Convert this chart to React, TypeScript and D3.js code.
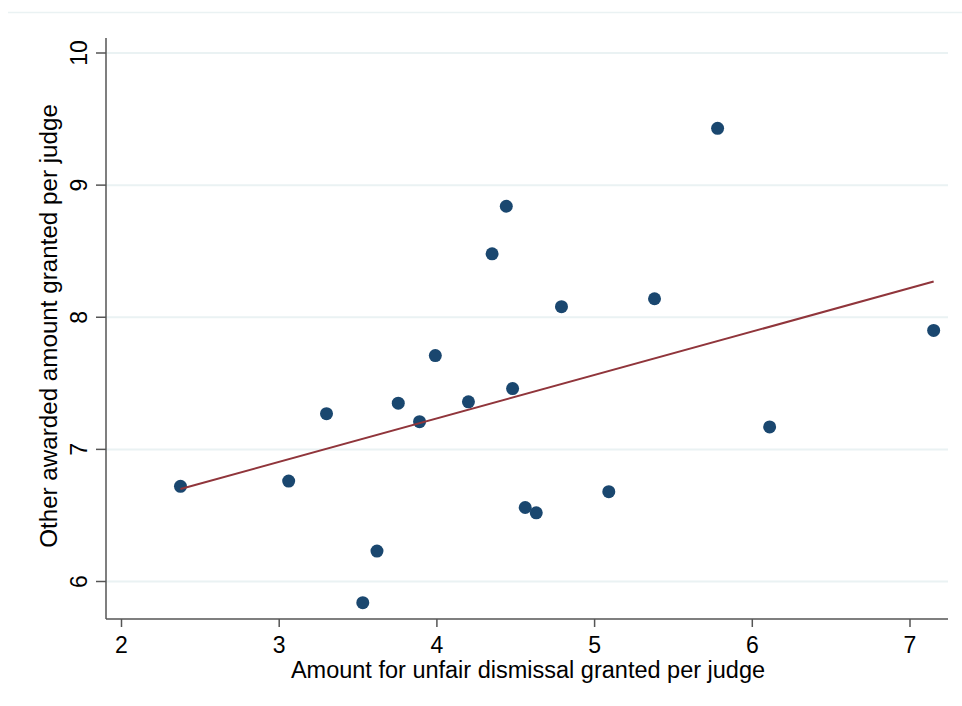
import React from "react";
import * as d3 from "d3";

const xValues = [2.374, 3.06, 3.30, 3.53, 3.62, 3.755, 3.89, 3.99, 4.20, 4.35, 4.44, 4.48, 4.56, 4.63, 4.79, 5.09, 5.38, 5.78, 6.11, 7.15];
const yValues = [6.72, 6.76, 7.27, 5.84, 6.23, 7.35, 7.21, 7.71, 7.36, 8.48, 8.84, 7.46, 6.56, 6.52, 8.08, 6.68, 8.14, 9.43, 7.17, 7.90];
const fitX = [2.374, 7.15];
const fitY = [6.70, 8.27];
const xTicks = [2, 3, 4, 5, 6, 7];
const yTicks = [6, 7, 8, 9, 10];
const xLabel = "Amount for unfair dismissal granted per judge";
const yLabel = "Other awarded amount granted per judge";

export default function App() {
  const W = 962, H = 706;
  const x = d3.scaleLinear().domain([2, 7]).range([121.5, 910]);
  const y = d3.scaleLinear().domain([6, 10]).range([581.5, 53]);
  const axLeft = 106, axBottom = 619, axTop = 38, axRight = 948;
  const font = "Arial, 'Liberation Sans', sans-serif";
  const line = d3.line<number>().x((_, i) => x(fitX[i])).y((_, i) => y(fitY[i]));
  return (
    <svg width={W} height={H} style={{ position: "absolute", left: 0, top: 0, background: "#fff" }} fontFamily={font}>
      <rect width={W} height={H} fill="#fff" />
      <line x1={8} x2={W} y1={12.5} y2={12.5} stroke="#eaf2f3" strokeWidth={1.5} />
      {yTicks.map(t => (
        <line key={"g" + t} x1={axLeft} x2={axRight} y1={y(t)} y2={y(t)} stroke="#eaf2f3" strokeWidth={2} />
      ))}
      <line x1={axLeft} x2={axLeft} y1={axTop} y2={axBottom} stroke="#555" strokeWidth={1.5} />
      <line x1={axLeft} x2={axRight} y1={axBottom} y2={axBottom} stroke="#555" strokeWidth={1.5} />
      {yTicks.map(t => (
        <g key={"y" + t}>
          <line x1={axLeft - 10} x2={axLeft} y1={y(t)} y2={y(t)} stroke="#555" strokeWidth={1.5} />
          <text transform={`translate(86.5,${y(t)}) rotate(-90)`} textAnchor="middle" fontSize={23} fill="#000">{t}</text>
        </g>
      ))}
      {xTicks.map(t => (
        <g key={"x" + t}>
          <line x1={x(t)} x2={x(t)} y1={axBottom} y2={axBottom + 8} stroke="#555" strokeWidth={1.5} />
          <text x={x(t)} y={653} textAnchor="middle" fontSize={23} fill="#000">{t}</text>
        </g>
      ))}
      <text x={528} y={678} textAnchor="middle" fontSize={23.5} fill="#000">{xLabel}</text>
      <text transform={`translate(57,326) rotate(-90)`} textAnchor="middle" fontSize={24.2} fill="#000">{yLabel}</text>
      {xValues.map((v, i) => (
        <circle key={i} cx={x(v)} cy={y(yValues[i])} r={6.5} fill="#1a476f" />
      ))}
      <path d={line(fitX) || ""} fill="none" stroke="#90353b" strokeWidth={2} />
    </svg>
  );
}
